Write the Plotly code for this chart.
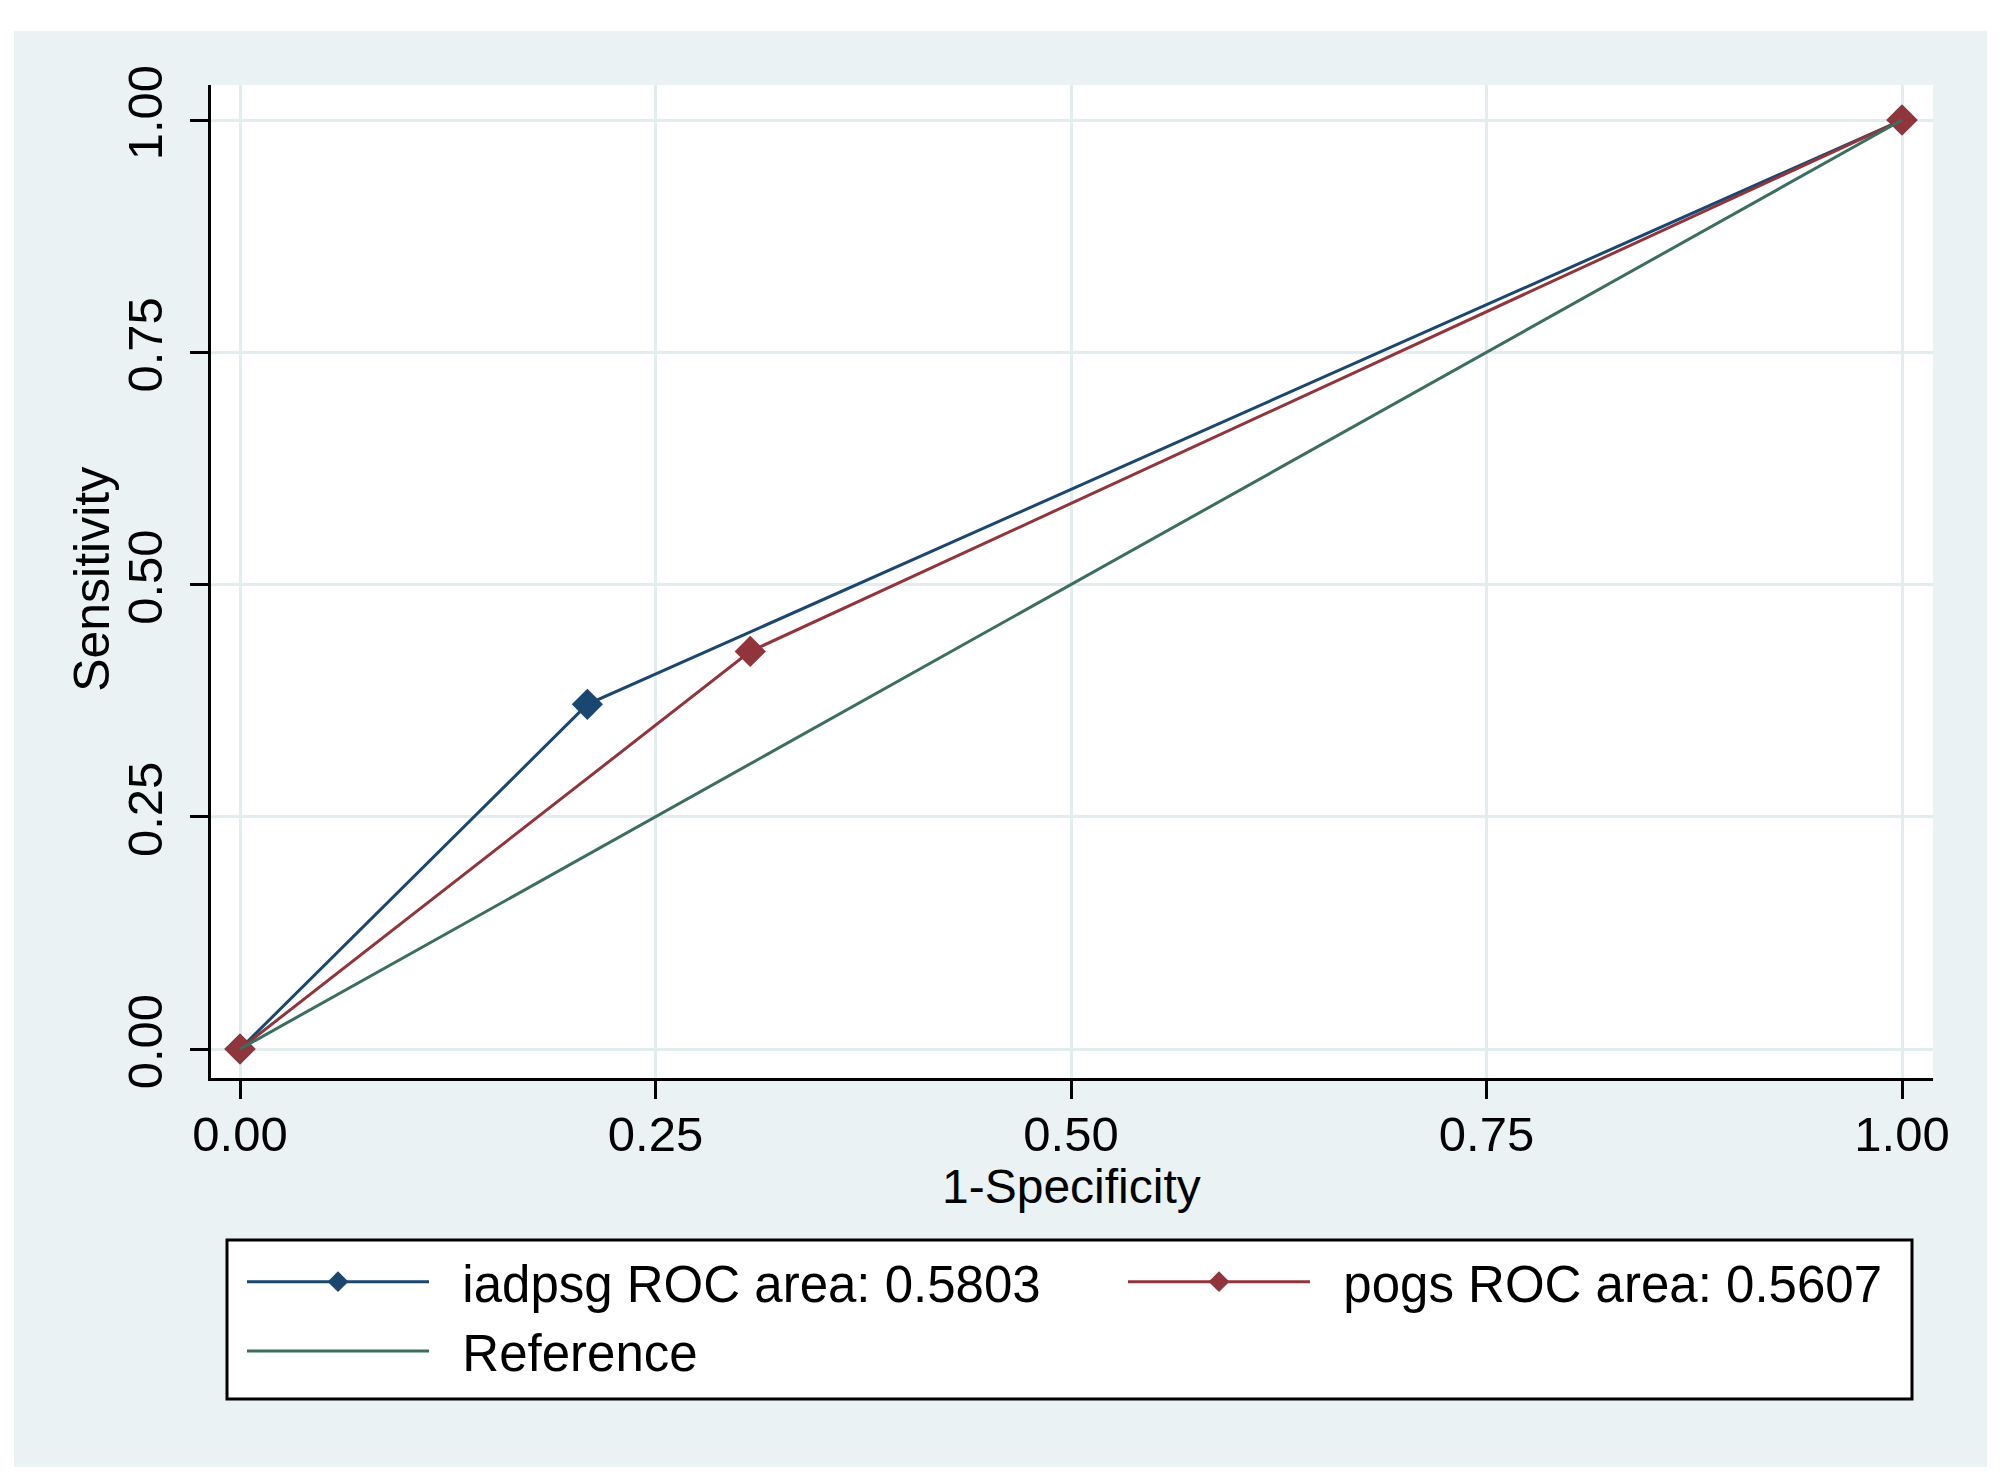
import plotly.graph_objects as go

# ---------------- data ----------------
fpr_iadpsg = [0.0, 0.209, 1.0]
sens_iadpsg = [0.0, 0.371, 1.0]
fpr_pogs = [0.0, 0.307, 1.0]
sens_pogs = [0.0, 0.428, 1.0]
ref_x = [0.0, 1.0]
ref_y = [0.0, 1.0]
names = ["iadpsg ROC area: 0.5803", "pogs ROC area: 0.5607", "Reference"]
tick_vals = [0.0, 0.25, 0.5, 0.75, 1.0]
tick_text = ["0.00", "0.25", "0.50", "0.75", "1.00"]
x_title = "1-Specificity"
y_title = "Sensitivity"

# ---------------- layout geometry ----------------
# the page body has an 8px margin, so the figure is shrunk/shifted by it
OFF = 8
W, H = 2000 - 2 * OFF, 1479 - 2 * OFF
PLOT_L, PLOT_R, PLOT_T, PLOT_B = 211, 1933, 85, 1078   # target page pixels
L = PLOT_L - OFF
T = PLOT_T - OFF
R = W - (PLOT_R - OFF)
B = H - (PLOT_B - OFF)
PW = W - L - R
PH = H - T - B


def px_x(px):
    return (px - PLOT_L) / PW


def px_y(py):
    return (PLOT_B - py) / PH


NAVY = "#1A476F"
MAROON = "#90353B"
GREEN = "#3A6E60"
BG = "#EAF2F3"
GRID = "#E3ECEE"
FONT = "Arial, 'Liberation Sans', sans-serif"
PAD = "\u00a0\u00a0"  # small gap between legend key and its label

fig = go.Figure()
fig.add_trace(go.Scatter(
    x=fpr_iadpsg, y=sens_iadpsg, name=PAD + names[0], mode="lines+markers",
    line=dict(color=NAVY, width=3),
    marker=dict(symbol="diamond", size=24, color=NAVY),
    legend="legend",
))
fig.add_trace(go.Scatter(
    x=fpr_pogs, y=sens_pogs, name=PAD + names[1], mode="lines+markers",
    line=dict(color=MAROON, width=3),
    marker=dict(symbol="diamond", size=24, color=MAROON),
    legend="legend2",
))
fig.add_trace(go.Scatter(
    x=ref_x, y=ref_y, name=PAD + names[2], mode="lines",
    line=dict(color=GREEN, width=3),
    legend="legend",
))

axis_common = dict(
    tickvals=tick_vals, ticktext=tick_text,
    showgrid=True, gridcolor=GRID, gridwidth=3,
    zeroline=False,
    showline=True, linecolor="black", linewidth=3,
    ticks="outside", ticklen=18, tickwidth=3, tickcolor="black",
    tickfont=dict(family=FONT, size=49, color="black"),
)

fig.update_layout(
    width=W, height=H,
    margin=dict(l=L, r=R, t=T, b=B, autoexpand=False),
    paper_bgcolor=BG, plot_bgcolor="white",
    xaxis=dict(range=[-0.01745, 1.01865], ticklabelstandoff=-7, **axis_common),
    yaxis=dict(range=[-0.0312, 1.0377], tickangle=-90, ticklabelstandoff=8, **axis_common),
    legend=dict(
        orientation="v", x=px_x(242), xanchor="left", y=px_y(1242), yanchor="top",
        bgcolor="rgba(0,0,0,0)", borderwidth=0, itemwidth=182,
        font=dict(family=FONT, size=51, color="black"),
        tracegroupgap=0,
    ),
    legend2=dict(
        orientation="v", x=px_x(1123), xanchor="left", y=px_y(1242), yanchor="top",
        bgcolor="rgba(0,0,0,0)", borderwidth=0, itemwidth=182,
        font=dict(family=FONT, size=51, color="black"),
    ),
    showlegend=True,
)

# white frame around the light graph region, and the legend box
shapes = [
    dict(type="rect", xref="paper", yref="paper", x0=px_x(-20), x1=px_x(2020), y0=px_y(-20), y1=px_y(31),
         fillcolor="white", line=dict(width=0), layer="above"),
    dict(type="rect", xref="paper", yref="paper", x0=px_x(-20), x1=px_x(14), y0=px_y(-20), y1=px_y(1500),
         fillcolor="white", line=dict(width=0), layer="above"),
    dict(type="rect", xref="paper", yref="paper", x0=px_x(1987), x1=px_x(2020), y0=px_y(-20), y1=px_y(1500),
         fillcolor="white", line=dict(width=0), layer="above"),
    dict(type="rect", xref="paper", yref="paper", x0=px_x(-20), x1=px_x(2020), y0=px_y(1467), y1=px_y(1500),
         fillcolor="white", line=dict(width=0), layer="above"),
    dict(type="rect", xref="paper", yref="paper", x0=px_x(227), x1=px_x(1912), y0=px_y(1240), y1=px_y(1399),
         fillcolor="white", line=dict(color="black", width=3), layer="above"),
]
fig.update_layout(shapes=shapes)

fig.add_annotation(
    text=x_title, xref="x", x=0.5, yref="paper", y=px_y(1186), yanchor="middle",
    showarrow=False, font=dict(family=FONT, size=48, color="black"),
)
fig.add_annotation(
    text=y_title, xref="paper", x=px_x(92), xanchor="center", yref="y", y=0.505, yanchor="middle",
    textangle=-90, showarrow=False, font=dict(family=FONT, size=50, color="black"),
)

fig.write_html("out.html")
